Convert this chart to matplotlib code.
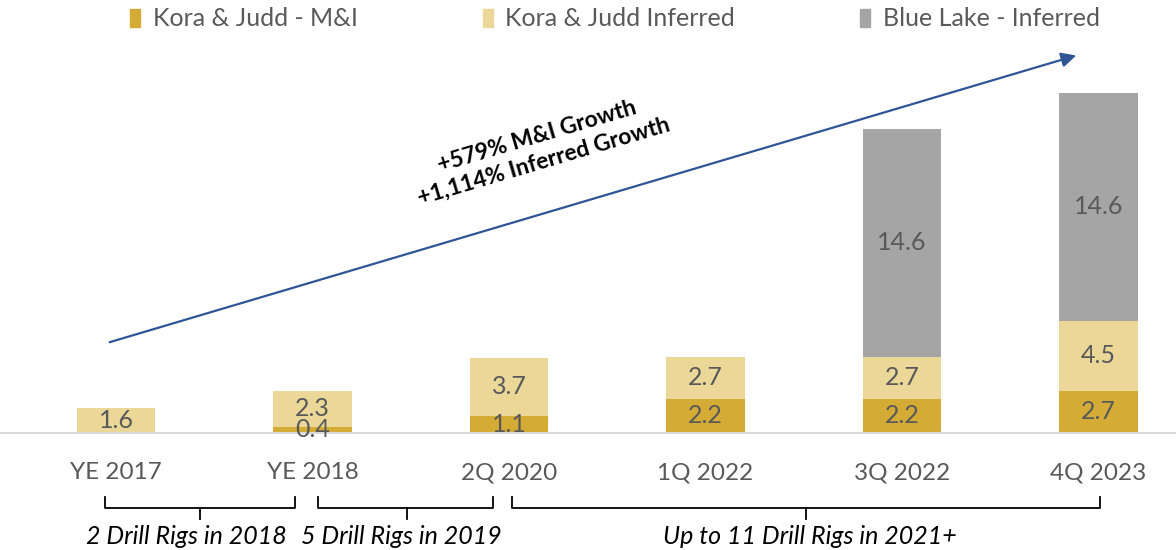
import numpy as np
import matplotlib.pyplot as plt
import matplotlib.transforms as mtransforms
from matplotlib.patches import Patch

plt.rcParams['font.family'] = ['Lato', 'DejaVu Sans']

# data
periods = ['YE 2017', 'YE 2018', '2Q 2020', '1Q 2022', '3Q 2022', '4Q 2023']
kj_mi = [0.0, 0.4, 1.1, 2.2, 2.2, 2.7]
kj_inf = [1.6, 2.3, 3.7, 2.7, 2.7, 4.5]
bl_inf = [0.0, 0.0, 0.0, 0.0, 14.6, 14.6]
series_names = ['Kora & Judd - M&I', 'Kora & Judd Inferred', 'Blue Lake - Inferred']
growth_text = '+579% M&I Growth\n+1,114% Inferred Growth'
rig_notes = ['2 Drill Rigs in 2018', '5 Drill Rigs in 2019', 'Up to 11 Drill Rigs in 2021+']

c_mi = '#D4AC35'
c_inf = '#EBD898'
c_bl = '#A5A5A5'
txt = '#595959'

W, H = 1176, 550
fig = plt.figure(figsize=(W / 100, H / 100), dpi=100)
ax = fig.add_axes([0, 117 / H, 1, 374.4 / H])

x = np.arange(len(periods))
w = 0.4
b1 = ax.bar(x, kj_mi, w, color=c_mi)
b2 = ax.bar(x, kj_inf, w, bottom=kj_mi, color=c_inf)
bottom3 = np.array(kj_mi) + np.array(kj_inf)
b3 = ax.bar(x, bl_inf, w, bottom=bottom3, color=c_bl)

for cont, vals in [(b1, kj_mi), (b2, kj_inf), (b3, bl_inf)]:
    labs = [f'{v:.1f}' if v > 0 else '' for v in vals]
    ax.bar_label(cont, labels=labs, label_type='center', fontsize=18, color=txt)

ax.set_xlim(-116 / 196.5, (W - 116) / 196.5)
ax.set_ylim(0, 24)
for s in ['top', 'right', 'left']:
    ax.spines[s].set_visible(False)
ax.spines['bottom'].set_color('#D9D9D9')
ax.spines['bottom'].set_linewidth(1.5)
ax.set_yticks([])
ax.set_xticks(x)
ax.set_xticklabels(periods, fontsize=17.5, color=txt)
ax.tick_params(axis='x', length=0, pad=21)

# growth arrow
ax.annotate('', xy=(4.9, 24.25), xytext=(-0.046, 5.77), annotation_clip=False,
            arrowprops=dict(arrowstyle='-|>', color='#2F5597', lw=1.6, mutation_scale=22))
ax.text(2.16, 18.2, growth_text, rotation=16.5, rotation_mode='anchor',
        ha='center', va='center', multialignment='center',
        fontsize=16.5, fontweight='bold', color='black', linespacing=1.3)

# brackets under the axis (x in data, y in figure fraction)
tr = mtransforms.blended_transform_factory(ax.transData, fig.transFigure)
def fy(py):
    return 1 - py / H

brackets = [(-0.056, 0.91, 0.43), (1.03, 1.92, 1.48), (2.015, 5.01, 3.51)]
note_x = [0.36, 1.45, 3.53]
for (xa, xb, xm), note, nx in zip(brackets, rig_notes, note_x):
    ax.plot([xa, xa, xb, xb], [fy(497), fy(508), fy(508), fy(497)], color='black',
            lw=1.3, transform=tr, clip_on=False)
    ax.plot([xm, xm], [fy(508), fy(519)], color='black', lw=1.3, transform=tr, clip_on=False)
    ax.text(nx, fy(537), note, transform=tr, ha='center', va='center',
            fontsize=18, style='italic', color='black')

handles = [Patch(color=c_mi), Patch(color=c_inf), Patch(color=c_bl)]
fig.legend(handles, series_names, loc='center', bbox_to_anchor=(615 / W, fy(19)),
           ncol=3, frameon=False, fontsize=18, labelcolor=txt,
           handlelength=0.4, handleheight=0.7, handletextpad=0.5, columnspacing=5.0)

fig.savefig('out.png', dpi=100)
